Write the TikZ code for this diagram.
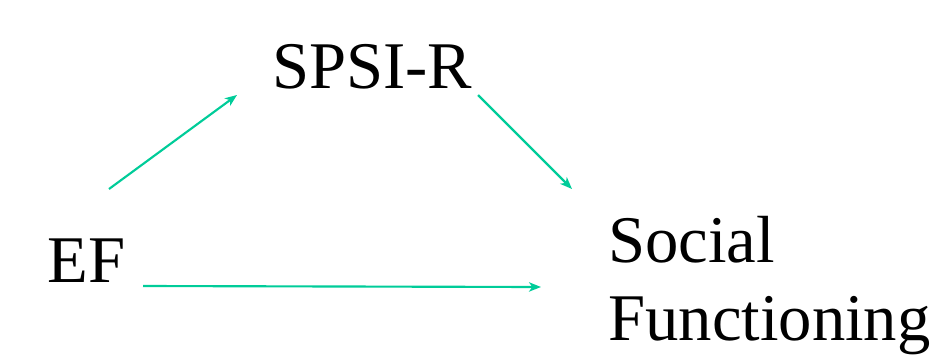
\documentclass[tikz,border=0pt]{standalone}
\usepackage{fontspec}
\setmainfont{Liberation Serif}
\usetikzlibrary{arrows.meta}
\definecolor{arrowgreen}{RGB}{0,204,153}
\begin{document}
\begin{tikzpicture}[x=0.75pt,y=-0.75pt,
  lbl/.style={inner sep=0pt,anchor=base west,font=\fontsize{50}{58.5}\selectfont,align=left},
  conn/.style={draw=arrowgreen,line width=1.6pt,-{Stealth[length=9pt,width=7pt,inset=2.5pt]}}]
\useasboundingbox (0,0) rectangle (934,354);
\node[lbl] (spsi) at (272,88) {SPSI-R};
\node[lbl] (ef) at (47,282) {EF};
\node[lbl] (sf) at (608,340) {Social\\Functioning};
\coordinate (e1) at (109,189);
\coordinate (s1) at (237,95);
\coordinate (s2) at (478,95);
\coordinate (f1) at (572,189);
\coordinate (e2) at (143,286);
\coordinate (f2) at (541,287);
\draw[conn] (e1) -- (s1);
\draw[conn] (s2) -- (f1);
\draw[conn] (e2) -- (f2);
\end{tikzpicture}
\end{document}
